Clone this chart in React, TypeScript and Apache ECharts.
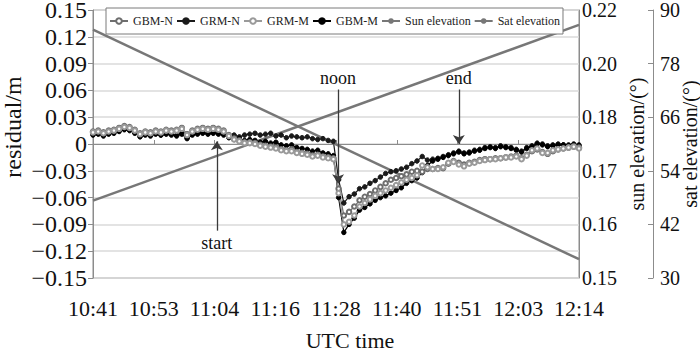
import React, { useEffect, useRef } from 'react';
import * as echarts from 'echarts';

// ---------- data ----------
const timeLabels = ['10:41', '10:53', '11:04', '11:16', '11:28', '11:40', '11:51', '12:03', '12:14'];
const timeTickStep = 11.625; // minutes between labelled ticks
const sunTickValues = [0.15, 0.164, 0.178, 0.192, 0.206, 0.22];
const sunTickLabels = ['0.15', '0.16', '0.17', '0.18', '0.20', '0.22'];
const satTickValues = [30, 42, 54, 66, 78, 90];

// one sample per minute after 10:41
const sampleMinutes = Array.from({ length: 94 }, (_, i) => i);

const gbmN = [
  0.014, 0.015, 0.013, 0.015, 0.016, 0.018, 0.020, 0.019, 0.016, 0.012,
  0.014, 0.013, 0.015, 0.014, 0.016, 0.015, 0.016, 0.018, 0.011, 0.015,
  0.017, 0.018, 0.017, 0.018, 0.017, 0.015, 0.010, 0.006, 0.004, 0.002,
  0.002, 0.001, -0.001, -0.002, -0.003, -0.004, -0.006, -0.007, -0.006, -0.009,
  -0.010, -0.011, -0.013, -0.012, -0.014, -0.015, -0.016, -0.050, -0.080, -0.076,
  -0.070, -0.063, -0.059, -0.056, -0.052, -0.048, -0.044, -0.040, -0.038, -0.036,
  -0.034, -0.031, -0.030, -0.031, -0.028, -0.028, -0.027, -0.027, -0.022, -0.019,
  -0.021, -0.023, -0.021, -0.020, -0.018, -0.017, -0.017, -0.016, -0.016, -0.015,
  -0.014, -0.013, -0.016, -0.012, -0.008, -0.006, -0.009, -0.011, -0.008, -0.006,
  -0.005, -0.004, -0.003, -0.004,
];
const grmN = [
  0.011, 0.012, 0.010, 0.012, 0.013, 0.015, 0.018, 0.016, 0.013, 0.009,
  0.011, 0.010, 0.012, 0.010, 0.012, 0.011, 0.010, 0.012, 0.007, 0.011,
  0.012, 0.013, 0.012, 0.013, 0.012, 0.011, 0.009, 0.010, 0.008, 0.010,
  0.011, 0.012, 0.010, 0.011, 0.012, 0.009, 0.010, 0.007, 0.009, 0.008,
  0.007, 0.008, 0.006, 0.005, 0.006, 0.004, 0.003, -0.040, -0.066, -0.059,
  -0.056, -0.050, -0.048, -0.044, -0.041, -0.037, -0.033, -0.031, -0.030, -0.028,
  -0.026, -0.022, -0.019, -0.014, -0.018, -0.017, -0.016, -0.014, -0.012, -0.010,
  -0.008, -0.010, -0.009, -0.007, -0.006, -0.004, -0.003, -0.004, -0.002, -0.003,
  -0.004, -0.006, -0.008, -0.004, -0.002, 0.001, 0.000, -0.002, -0.001, 0.000,
  -0.001, -0.001, 0.000, -0.001,
];
const grmM = [
  0.013, 0.014, 0.012, 0.014, 0.015, 0.017, 0.019, 0.018, 0.015, 0.011,
  0.013, 0.012, 0.014, 0.013, 0.015, 0.014, 0.015, 0.017, 0.010, 0.014,
  0.016, 0.017, 0.016, 0.017, 0.016, 0.014, 0.009, 0.005, 0.003, 0.001,
  0.001, 0.000, -0.002, -0.003, -0.004, -0.005, -0.007, -0.008, -0.008, -0.010,
  -0.011, -0.012, -0.014, -0.013, -0.015, -0.016, -0.017, -0.055, -0.090, -0.087,
  -0.080, -0.070, -0.066, -0.062, -0.058, -0.055, -0.052, -0.049, -0.046, -0.043,
  -0.040, -0.038, -0.035, -0.024, -0.026, -0.028, -0.028, -0.026, -0.021, -0.020,
  -0.023, -0.025, -0.022, -0.021, -0.019, -0.018, -0.017, -0.017, -0.016, -0.015,
  -0.015, -0.014, -0.017, -0.013, -0.007, -0.005, -0.010, -0.010, -0.007, -0.006,
  -0.005, -0.004, -0.003, -0.005,
];
const gbmM = [
  0.010, 0.011, 0.009, 0.011, 0.012, 0.014, 0.016, 0.015, 0.012, 0.008,
  0.010, 0.009, 0.011, 0.010, 0.011, 0.010, 0.009, 0.011, 0.006, 0.010,
  0.011, 0.012, 0.011, 0.012, 0.011, 0.010, 0.007, 0.005, 0.006, 0.004,
  0.005, 0.004, 0.002, 0.003, 0.001, 0.002, -0.001, -0.002, -0.001, -0.004,
  -0.005, -0.006, -0.008, -0.007, -0.010, -0.011, -0.013, -0.060, -0.099, -0.090,
  -0.083, -0.074, -0.071, -0.067, -0.063, -0.060, -0.058, -0.055, -0.052, -0.049,
  -0.044, -0.041, -0.038, -0.032, -0.024, -0.019, -0.017, -0.015, -0.013, -0.011,
  -0.009, -0.011, -0.010, -0.008, -0.007, -0.005, -0.004, -0.005, -0.003, -0.004,
  -0.005, -0.007, -0.009, -0.005, -0.003, 0.000, -0.001, -0.003, -0.002, -0.001,
  -0.001, -0.002, -0.001, -0.002,
];

const elevationMinutes = [0, 93];
const sunElevation = [0.1702, 0.2161];
const satElevation = [85.6, 34.2];

const annotations = [
  { label: 'start', time: 23.7, from: -0.097, to: 0.003 },
  { label: 'noon', time: 46.9, from: 0.061, to: -0.044 },
  { label: 'end', time: 70.0, from: 0.061, to: 0.0 },
];

// ---------- styling ----------
const FONT = '"Liberation Serif", "Times New Roman", serif';
const AXIS_GREY = '#8c8c8c';
const TEXT = '#111';

const pair = (xs: number[], ys: number[]) => xs.map((x, i) => [x, ys[i]]);

function residualSeries(name: string, data: number[], color: string, hollow: boolean, extra: any = {}) {
  return {
    name,
    type: 'line',
    yAxisIndex: 0,
    data: pair(sampleMinutes, data),
    symbol: hollow ? 'emptyCircle' : 'circle',
    symbolSize: 4.5,
    showSymbol: true,
    lineStyle: { color, width: 1.2 },
    itemStyle: { color, borderColor: color, borderWidth: 1 },
    emphasis: { disabled: true },
    silent: true,
    ...extra,
  };
}

export default function App() {
  const ref = useRef<HTMLDivElement>(null);
  useEffect(() => {
    const chart = echarts.init(ref.current!, undefined, { renderer: 'svg' });
    const option: any = {
      animation: false,
      backgroundColor: '#fff',
      textStyle: { fontFamily: FONT },
      grid: {
        left: 93, right: 121, top: 10, bottom: 73,
        outerBoundsMode: 'none',
        containLabel: false,
        show: true, borderColor: AXIS_GREY, borderWidth: 1, backgroundColor: 'transparent',
      },
      legend: {
        left: 106, top: 8,
        padding: [7, 3],
        itemGap: 3, itemWidth: 18, itemHeight: 7,
        borderColor: '#7a7a7a', borderWidth: 1, backgroundColor: '#fff',
        textStyle: { fontSize: 12, fontFamily: FONT, color: '#222' },
        data: ['GBM-N', 'GRM-N', 'GRM-M', 'GBM-M', 'Sun elevation', 'Sat elevation'],
      },
      xAxis: {
        type: 'value', min: 0, max: 93, interval: timeTickStep,
        axisLine: { show: true, lineStyle: { color: AXIS_GREY } },
        axisTick: { show: true, inside: true, length: 4, lineStyle: { color: AXIS_GREY } },
        splitLine: { show: false },
        axisLabel: {
          formatter: (v: number) => timeLabels[Math.round(v / timeTickStep)] ?? '',
          fontSize: 22, fontFamily: FONT, color: TEXT, margin: 19,
          showMinLabel: true, showMaxLabel: true,
        },
        name: 'UTC time', nameLocation: 'middle', nameGap: 51, nameMoveOverlap: false,
        nameTextStyle: { fontSize: 22, fontFamily: FONT, color: TEXT, padding: [0, 0, 0, 28] },
      },
      yAxis: [
        {
          type: 'value', position: 'left', min: -0.15, max: 0.15, interval: 0.03,
          axisLine: { show: true, lineStyle: { color: AXIS_GREY } },
          axisTick: { show: true, inside: false, length: 5, lineStyle: { color: AXIS_GREY } },
          splitLine: { show: true, lineStyle: { color: '#dadada', width: 1.5 } },
          axisLabel: {
            formatter: (v: number) => (Math.abs(v) < 1e-9 ? '0' : v.toFixed(2).replace('-', '\u2212')),
            fontSize: 24, lineHeight: 16, fontFamily: FONT, color: TEXT, margin: 6,
            showMinLabel: true, showMaxLabel: true,
          },
          name: 'residual/m', nameLocation: 'middle', nameRotate: 90, nameGap: 68, nameMoveOverlap: false,
          nameTextStyle: { fontSize: 24, fontFamily: FONT, color: TEXT, padding: [0, 0, 0, 34] },
        },
        {
          type: 'value', position: 'right', min: 0.15, max: 0.22,
          axisLine: { show: true, lineStyle: { color: AXIS_GREY } },
          axisTick: { show: false },
          splitLine: { show: false },
          axisLabel: {
            customValues: sunTickValues,
            formatter: (v: number) => sunTickLabels[Math.round((v - 0.15) / 0.014)] ?? '',
            fontSize: 20, lineHeight: 16, fontFamily: FONT, color: TEXT, margin: 3,
          },
          name: 'sun elevation/(°)', nameLocation: 'middle', nameRotate: 90, nameGap: 48, nameMoveOverlap: false,
          nameTextStyle: { fontSize: 20, fontFamily: FONT, color: TEXT },
        },
        {
          type: 'value', position: 'right', offset: 74, min: 30, max: 90,
          axisLine: { show: true, lineStyle: { color: AXIS_GREY } },
          axisTick: { show: true, inside: true, length: 5, customValues: satTickValues, lineStyle: { color: AXIS_GREY } },
          splitLine: { show: false },
          axisLabel: {
            customValues: satTickValues,
            fontSize: 20, lineHeight: 16, fontFamily: FONT, color: TEXT, margin: 7,
          },
          name: 'sat elevation/(°)', nameLocation: 'middle', nameRotate: 90, nameGap: 27, nameMoveOverlap: false,
          nameTextStyle: { fontSize: 20, fontFamily: FONT, color: TEXT },
        },
      ],
      series: [
        residualSeries('GRM-N', grmN, '#1a1a1a', false, {
          markLine: {
            silent: true,
            symbol: ['none', 'arrow'],
            symbolSize: 9,
            lineStyle: { color: '#3a3a3a', width: 1.3, type: 'solid' },
            label: { show: true, position: 'start', formatter: '{b}', fontSize: 18, fontFamily: FONT, color: TEXT, distance: 3 },
            emphasis: { disabled: true },
            data: annotations.map((a) => [
              { name: a.label, coord: [a.time, a.from] },
              { coord: [a.time, a.to] },
            ]),
          },
        }),
        residualSeries('GBM-M', gbmM, '#000000', false),
        residualSeries('GBM-N', gbmN, '#6e6e6e', true),
        residualSeries('GRM-M', grmM, '#9a9a9a', true),
        {
          name: 'Sun elevation', type: 'line', yAxisIndex: 1,
          data: pair(elevationMinutes, sunElevation),
          symbol: 'circle', symbolSize: 3, showSymbol: false,
          lineStyle: { color: '#777', width: 2.5 }, itemStyle: { color: '#777' },
          silent: true, emphasis: { disabled: true },
        },
        {
          name: 'Sat elevation', type: 'line', yAxisIndex: 2,
          data: pair(elevationMinutes, satElevation),
          symbol: 'circle', symbolSize: 3, showSymbol: false,
          lineStyle: { color: '#777', width: 2.5 }, itemStyle: { color: '#777' },
          silent: true, emphasis: { disabled: true },
        },
      ],
    };
    chart.setOption(option);
    return () => chart.dispose();
  }, []);
  return <div ref={ref} style={{ position: 'absolute', left: 0, top: 0, width: 700, height: 351 }} />;
}
